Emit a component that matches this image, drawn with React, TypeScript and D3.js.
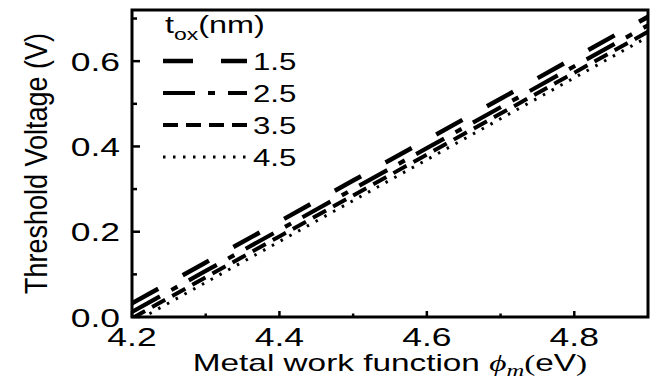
import React, { useEffect, useRef } from 'react';
import * as d3 from 'd3';

// work function values (eV)
const phiM = [4.2, 4.3, 4.4, 4.5, 4.6, 4.7, 4.8, 4.9];

// threshold voltage (V) for each oxide thickness
const vt15 = [0.032, 0.128, 0.224, 0.32, 0.416, 0.512, 0.608, 0.704];
const vt25 = [0.012, 0.108, 0.204, 0.3, 0.396, 0.492, 0.588, 0.684];
const vt35 = [-0.003, 0.093, 0.189, 0.285, 0.381, 0.477, 0.573, 0.669];
const vt45 = [-0.015, 0.081, 0.177, 0.273, 0.369, 0.465, 0.561, 0.657];

const toxLabels = ['1.5', '2.5', '3.5', '4.5'];
const xTicks = [4.2, 4.4, 4.6, 4.8];
const xMinorTicks = [4.3, 4.5, 4.7];
const yTicks = [0.0, 0.2, 0.4, 0.6];
const yMinorTicks = [0.1, 0.3, 0.5, 0.7];

const W = 661;
const H = 379;

export default function App() {
  const svgRef = useRef<SVGSVGElement>(null);

  useEffect(() => {
    const svg = d3.select(svgRef.current);
    svg.selectAll('*').remove();

    const margin = { top: 10, right: 13, bottom: 62, left: 132 };
    const x = d3.scaleLinear().domain([4.2, 4.9]).range([margin.left, W - margin.right]);
    const y = d3.scaleLinear().domain([0, 0.72]).range([H - margin.bottom, margin.top]);

    const font = 'Liberation Sans, Arial, sans-serif';
    const serif = 'Liberation Serif, Times New Roman, serif';

    // dash styles per series (matches the original line styles)
    const styles = [
      { dash: '30 28', width: 4.5 },
      { dash: '32 13 7 13', width: 4.2 },
      { dash: '15 8', width: 4 },
      { dash: '2.5 7.5', width: 3 },
    ];
    const series = [vt15, vt25, vt35, vt45];

    // clip to plot area
    svg.append('defs').append('clipPath').attr('id', 'plot-clip')
      .append('rect')
      .attr('x', x(4.2)).attr('y', y(0.72))
      .attr('width', x(4.9) - x(4.2)).attr('height', y(0) - y(0.72));

    const line = d3.line<number>()
      .x((d, i) => x(phiM[i]))
      .y(d => y(d));

    const plot = svg.append('g').attr('clip-path', 'url(#plot-clip)');
    series.forEach((s, i) => {
      plot.append('path')
        .attr('d', line(s))
        .attr('fill', 'none')
        .attr('stroke', '#000')
        .attr('stroke-width', styles[i].width)
        .attr('stroke-dasharray', styles[i].dash);
    });

    // frame
    svg.append('rect')
      .attr('x', x(4.2)).attr('y', y(0.72))
      .attr('width', x(4.9) - x(4.2)).attr('height', y(0) - y(0.72))
      .attr('fill', 'none')
      .attr('stroke', '#000')
      .attr('stroke-width', 3);

    // inward ticks
    const ticks = svg.append('g').attr('stroke', '#000').attr('stroke-width', 2.5);
    xTicks.forEach(t => ticks.append('line')
      .attr('x1', x(t)).attr('x2', x(t)).attr('y1', y(0)).attr('y2', y(0) - 6));
    xMinorTicks.forEach(t => ticks.append('line')
      .attr('x1', x(t)).attr('x2', x(t)).attr('y1', y(0)).attr('y2', y(0) - 3.5));
    yTicks.forEach(t => ticks.append('line')
      .attr('x1', x(4.2)).attr('x2', x(4.2) + 8).attr('y1', y(t)).attr('y2', y(t)));
    yMinorTicks.forEach(t => ticks.append('line')
      .attr('x1', x(4.2)).attr('x2', x(4.2) + 5).attr('y1', y(t)).attr('y2', y(t)));

    // stretched text helper (source text is horizontally wide)
    const stext = (tx: number, ty: number, sx: number, anchor: string, size: number) =>
      svg.append('text')
        .attr('transform', `translate(${tx},${ty}) scale(${sx},1)`)
        .attr('text-anchor', anchor)
        .attr('font-family', font)
        .attr('font-size', size)
        .attr('fill', '#000');

    xTicks.forEach(t => stext(x(t), y(0) + 29, 1.42, 'middle', 25).text(t.toFixed(1)));
    yTicks.forEach(t => stext(x(4.2) - 12, y(t) + 9.5, 1.42, 'end', 25).text(t.toFixed(1)));

    // x axis title
    const xt = stext((x(4.2) + x(4.9)) / 2, 371, 1.45, 'middle', 23);
    xt.append('tspan').text('Metal work function ');
    xt.append('tspan').attr('font-family', serif).attr('font-style', 'italic').text('ϕ');
    xt.append('tspan').attr('font-family', serif).attr('font-style', 'italic')
      .attr('font-size', 17).attr('dy', 5).text('m');
    xt.append('tspan').attr('font-family', serif).attr('dy', -5).text('(');
    xt.append('tspan').text('eV');
    xt.append('tspan').attr('font-family', serif).text(')');

    // y axis title
    svg.append('text')
      .attr('transform', `translate(47,${(y(0) + y(0.72)) / 2}) rotate(-90) scale(1,1.15)`)
      .attr('text-anchor', 'middle')
      .attr('font-family', font)
      .attr('font-size', 27)
      .text('Threshold Voltage (V)');

    // legend
    const lt = stext(165, 33, 1.35, 'start', 24);
    lt.append('tspan').text('t');
    lt.append('tspan').attr('font-size', 17).attr('dy', 7).text('ox');
    lt.append('tspan').attr('dy', -7).text('(nm)');

    toxLabels.forEach((lab, i) => {
      const ly = 61 + i * 32;
      svg.append('line')
        .attr('x1', 163).attr('x2', 247).attr('y1', ly).attr('y2', ly)
        .attr('stroke', '#000')
        .attr('stroke-width', styles[i].width)
        .attr('stroke-dasharray', styles[i].dash);
      stext(253, ly + 9, 1.3, 'start', 24).text(lab);
    });
  }, []);

  return (
    <svg
      ref={svgRef}
      width={W}
      height={H}
      style={{ position: 'absolute', left: 0, top: 0, background: '#fff', display: 'block' }}
    />
  );
}
